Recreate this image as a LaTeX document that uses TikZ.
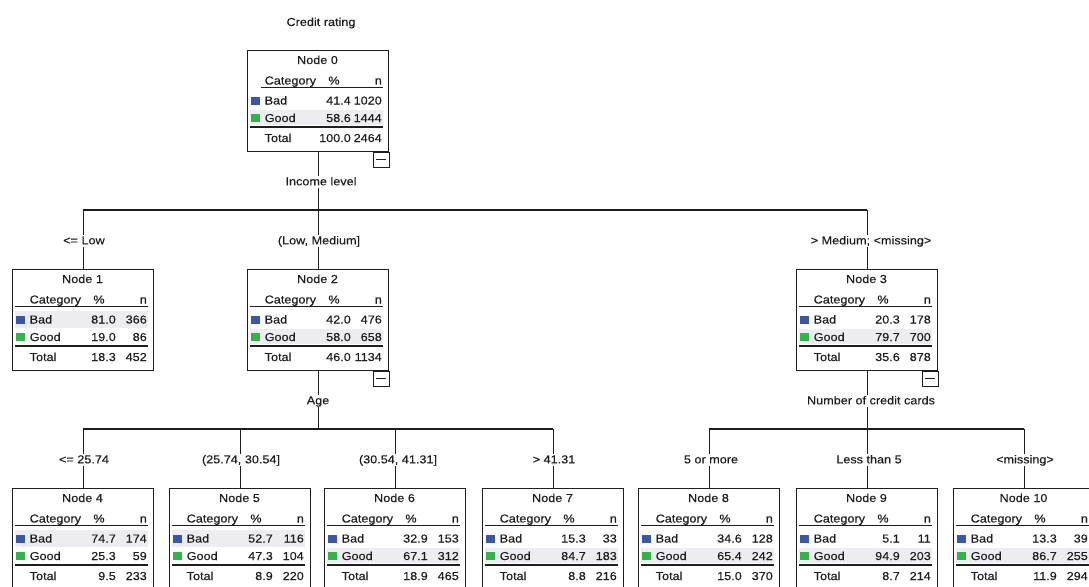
\documentclass[tikz,border=0pt]{standalone}
\usepackage{fontspec}
\setmainfont{Liberation Sans}[FakeStretch=1.1, FakeBold=0.25]
\definecolor{catblue}{HTML}{3A56A8}
\definecolor{catgreen}{HTML}{34B34A}
\definecolor{bandgray}{HTML}{EDECF1}
\definecolor{ink}{HTML}{1E1E1E}
\tikzset{
  nodebox/.style={draw=ink, line width=1.4pt, minimum width=141pt, minimum height=101pt, inner sep=0pt, anchor=north west},
  conn/.style={draw=ink, line width=1.3pt},
  txt/.style={inner sep=0pt, text=ink},
  lbl/.style={fill=white, inner xsep=0.5pt, inner ysep=1pt, text height=8.2pt, text depth=1.5pt, text=ink},
  rulethin/.style={draw=ink, line width=1.2pt},
  rulethick/.style={draw=ink, line width=2pt},
  minusbox/.style={draw=ink, line width=1pt},
}
\def\hdrstart{3}
% #1 name, #2 L, #3 T, #4 number, #5 bad pct, #6 bad n, #7 good pct, #8 good n, #9 shaded row (0 bad, 1 good)
\newcommand\treenode[9]{%
  \begin{scope}[shift={(#2,#3)}]
    \ifnum#9=0 \fill[bandgray] (3,42) rectangle (136,59);\else \fill[bandgray] (3,60) rectangle (136,74.5);\fi
    \draw[rulethin] (\hdrstart,37.5) -- (136,37.5);
    \draw[rulethick] (3,76.5) -- (136,76.5);
    \fill[catblue] (4,46.5) rectangle (12.5,54.5);
    \fill[catgreen] (4,64) rectangle (12.5,72);
    \node[txt, anchor=base] at (70.5,14) {Node #4};
    \node[txt, anchor=base west] at (17.5,34.5) {Category};
    \node[txt, anchor=base] at (87,34.5) {\%};
    \node[txt, anchor=base east] at (135,34.5) {n};
    \node[txt, anchor=base west] at (17.5,54.5) {Bad};
    \node[txt, anchor=base east] at (104,54.5) {#5};
    \node[txt, anchor=base east] at (135,54.5) {#6};
    \node[txt, anchor=base west] at (17.5,72) {Good};
    \node[txt, anchor=base east] at (104,72) {#7};
    \node[txt, anchor=base east] at (135,72) {#8};
  \end{scope}
  \node[nodebox] (#1) at (#2,#3) {};
}
\newcommand\nodetotal[4]{%
  \begin{scope}[shift={(#1,#2)}]
    \node[txt, anchor=base west] at (17.5,92) {Total};
    \node[txt, anchor=base east] at (104,92) {#3};
    \node[txt, anchor=base east] at (135,92) {#4};
  \end{scope}}
\newcommand\minusmark[1]{%
  \draw[minusbox] (#1.south east) rectangle ++(-16,15);
  \draw[minusbox] ([shift={(-13,7.5)}]#1.south east) -- ++(10,0);}
\begin{document}
\begin{tikzpicture}[x=1pt, y=-1pt, font=\fontsize{11.5}{13}\selectfont]
\useasboundingbox (0,0) rectangle (1089,586);
\fill[white] (0,0) rectangle (1089,586);
\clip (0,0) rectangle (1089,586);

\node[txt] (title) at (321,23) {Credit rating};

\def\hdrstart{14}
\treenode{n0}{247}{50}{0}{41.4}{1020}{58.6}{1444}{1}
\nodetotal{247}{50}{100.0}{2464}
\def\hdrstart{3}
\treenode{n1}{12}{269}{1}{81.0}{366}{19.0}{86}{0}
\nodetotal{12}{269}{18.3}{452}
\treenode{n2}{247}{269}{2}{42.0}{476}{58.0}{658}{1}
\nodetotal{247}{269}{46.0}{1134}
\treenode{n3}{796}{269}{3}{20.3}{178}{79.7}{700}{1}
\nodetotal{796}{269}{35.6}{878}
\treenode{n4}{12}{488}{4}{74.7}{174}{25.3}{59}{0}
\nodetotal{12}{488}{9.5}{233}
\treenode{n5}{169}{488}{5}{52.7}{116}{47.3}{104}{0}
\nodetotal{169}{488}{8.9}{220}
\treenode{n6}{324}{488}{6}{32.9}{153}{67.1}{312}{1}
\nodetotal{324}{488}{18.9}{465}
\treenode{n7}{482}{488}{7}{15.3}{33}{84.7}{183}{1}
\nodetotal{482}{488}{8.8}{216}
\treenode{n8}{638}{488}{8}{34.6}{128}{65.4}{242}{1}
\nodetotal{638}{488}{15.0}{370}
\treenode{n9}{796}{488}{9}{5.1}{11}{94.9}{203}{1}
\nodetotal{796}{488}{8.7}{214}
\treenode{n10}{953}{488}{10}{13.3}{39}{86.7}{255}{1}
\nodetotal{953}{488}{11.9}{294}

\minusmark{n0}
\minusmark{n2}
\minusmark{n3}

\coordinate (h1) at (0,210);
\coordinate (h2) at (0,429);

% level 1
\draw[conn] (n0.south) -- (n0.south |- h1);
\draw[conn] (n1.north |- h1) -- (n3.north |- h1);
\draw[conn] (n1.north |- h1) -- (n1.north);
\draw[conn] (n2.north |- h1) -- (n2.north);
\draw[conn] (n3.north |- h1) -- (n3.north);
% level 2 (Age)
\draw[conn] (n2.south) -- (n2.south |- h2);
\draw[conn] (n4.north |- h2) -- (n7.north |- h2);
\draw[conn] (n4.north |- h2) -- (n4.north);
\draw[conn] (n5.north |- h2) -- (n5.north);
\draw[conn] (n6.north |- h2) -- (n6.north);
\draw[conn] (n7.north |- h2) -- (n7.north);
% level 2 (credit cards)
\draw[conn] (n3.south) -- (n3.south |- h2);
\draw[conn] (n8.north |- h2) -- (n10.north |- h2);
\draw[conn] (n8.north |- h2) -- (n8.north);
\draw[conn] (n9.north |- h2) -- (n9.north);
\draw[conn] (n10.north |- h2) -- (n10.north);

% labels
\node[lbl] (s0) at (321,182) {Income level};
\node[lbl] (e1) at (84,241) {<= Low};
\node[lbl] (e2) at (319,241) {(Low, Medium]};
\node[lbl] (e3) at (871,241) {> Medium; <missing>};
\node[lbl] (s2) at (318,401) {Age};
\node[lbl] (s3) at (871,401) {Number of credit cards};
\node[lbl] (e4) at (84,460) {<= 25.74};
\node[lbl] (e5) at (241,460) {(25.74, 30.54]};
\node[lbl] (e6) at (398,460) {(30.54, 41.31]};
\node[lbl] (e7) at (554,460) {> 41.31};
\node[lbl] (e8) at (711,460) {5 or more};
\node[lbl] (e9) at (869,460) {Less than 5};
\node[lbl] (e10) at (1025,460) {<missing>};
\end{tikzpicture}
\end{document}
